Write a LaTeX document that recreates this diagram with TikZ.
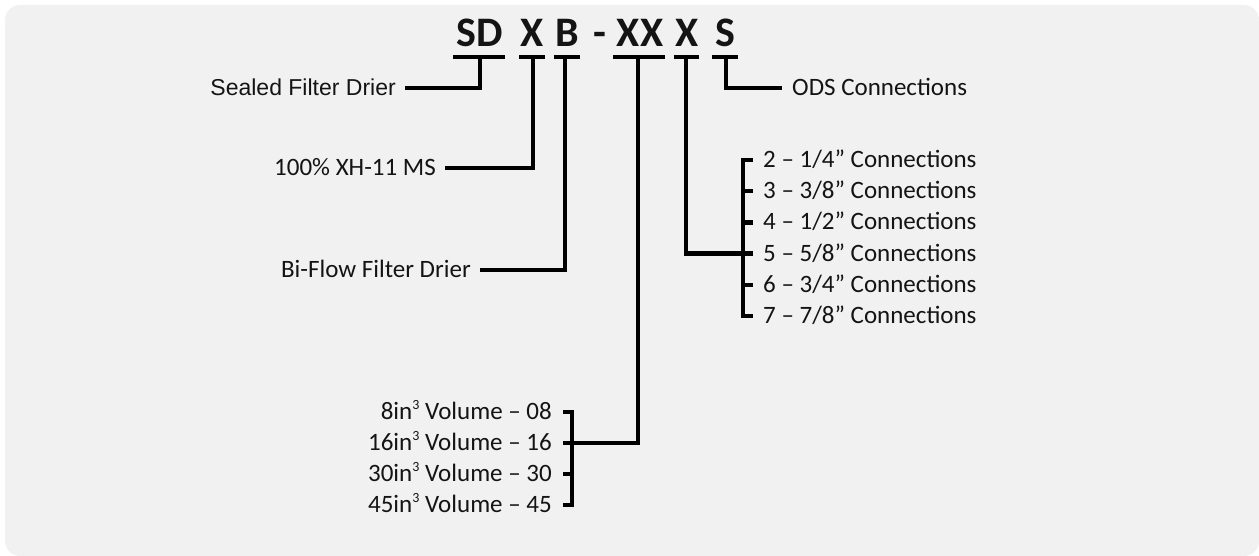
\documentclass[tikz,border=0pt]{standalone}
\usepackage{fontspec}
\setmainfont{Carlito}
\newfontfamily\arialf{Liberation Sans}
\definecolor{bggray}{HTML}{F1F1F1}
\definecolor{ink}{HTML}{141414}
\newcommand{\cubesup}{\raisebox{0.42em}{\fontsize{14}{14}\selectfont 3}}
\begin{document}
\begin{tikzpicture}[x=1pt,y=-1pt,
  conn/.style={line width=4.5pt, draw=black},
  code/.style={inner sep=0pt, anchor=base, font=\fontsize{42}{42}\selectfont\bfseries, text=ink},
  lab/.style={inner ysep=0pt, inner xsep=9pt, text height=15pt, text depth=0pt, font=\fontsize{25}{25}\selectfont, text=ink},
  item/.style={lab, inner xsep=10pt},
  vol/.style={lab, inner xsep=11pt}]
\useasboundingbox (0,0) rectangle (1259,556);
\fill[bggray, rounded corners=15pt] (5,5) rectangle (1259,556);

% code letters
\node[code] (sd)  at (480,47) {SD};
\node[code] (x1)  at (532,47) {X};
\node[code] (b)   at (567.5,47) {B};
\node[code] (dash) at (600,47) {-};
\node[code] (xx)  at (640,47) {XX};
\node[code] (x2)  at (687,47) {X};
\node[code] (s)   at (725,47) {S};

% underline coordinates
\coordinate (sdL) at (453,57); \coordinate (sdR) at (505,57); \coordinate (sdT) at (480,57);
\coordinate (x1L) at (519,57); \coordinate (x1R) at (545,57); \coordinate (x1T) at (533,57);
\coordinate (bL)  at (554,57); \coordinate (bR)  at (580,57); \coordinate (bT)  at (565,57);
\coordinate (xxL) at (613,57); \coordinate (xxR) at (665,57); \coordinate (xxT) at (638,57);
\coordinate (x2L) at (674,57); \coordinate (x2R) at (699,57); \coordinate (x2T) at (686,57);
\coordinate (sL)  at (712,57); \coordinate (sR)  at (738,57); \coordinate (sT)  at (726,57);

\draw[line width=4pt] (sdL) -- (sdR) (x1L) -- (x1R) (bL) -- (bR)
  (xxL) -- (xxR) (x2L) -- (x2R) (sL) -- (sR);

% single labels
\node[lab, anchor=east, font=\arialf\fontsize{23}{23}\selectfont] (sealed) at (405,88) {Sealed Filter Drier};
\node[lab, anchor=east] (xh) at (445,168) {100\% XH-11 MS};
\node[lab, anchor=east] (bif) at (480,270) {Bi-Flow Filter Drier};
\node[lab, anchor=west, inner xsep=10pt] (ods) at (782,88) {ODS Connections};

\draw[conn] (sdT) |- (sealed.east);
\draw[conn] (x1T) |- (xh.east);
\draw[conn] (bT) |- (bif.east);
\draw[conn] (sT) |- (ods.west);

% connection sizes
\coordinate (bx) at (743,0);
\node[item, anchor=west] (c2) at (753,160) {2 – 1/4” Connections};
\node[item, anchor=west] (c3) at (753,191.2) {3 – 3/8” Connections};
\node[item, anchor=west] (c4) at (753,222.4) {4 – 1/2” Connections};
\node[item, anchor=west] (c5) at (753,253.6) {5 – 5/8” Connections};
\node[item, anchor=west] (c6) at (753,284.8) {6 – 3/4” Connections};
\node[item, anchor=west] (c7) at (753,316) {7 – 7/8” Connections};
\draw[conn] (c2.west) -- (c2.west -| bx) -- (c7.west -| bx) -- (c7.west);
\foreach \n in {c3,c4,c5,c6} \draw[conn] (\n.west) -- (\n.west -| bx);
\draw[conn] (x2T) |- (c5.west -| bx);

% volumes
\coordinate (vx) at (572,0);
\node[vol, anchor=east] (v8)  at (563,412) {8in\cubesup{} Volume – 08};
\node[vol, anchor=east] (v16) at (563,443) {16in\cubesup{} Volume – 16};
\node[vol, anchor=east] (v30) at (563,474) {30in\cubesup{} Volume – 30};
\node[vol, anchor=east] (v45) at (563,505) {45in\cubesup{} Volume – 45};
\draw[conn] (v8.east) -- (v8.east -| vx) -- (v45.east -| vx) -- (v45.east);
\foreach \n in {v16,v30} \draw[conn] (\n.east) -- (\n.east -| vx);
\draw[conn] (xxT) |- (v16.east -| vx);
\end{tikzpicture}
\end{document}
